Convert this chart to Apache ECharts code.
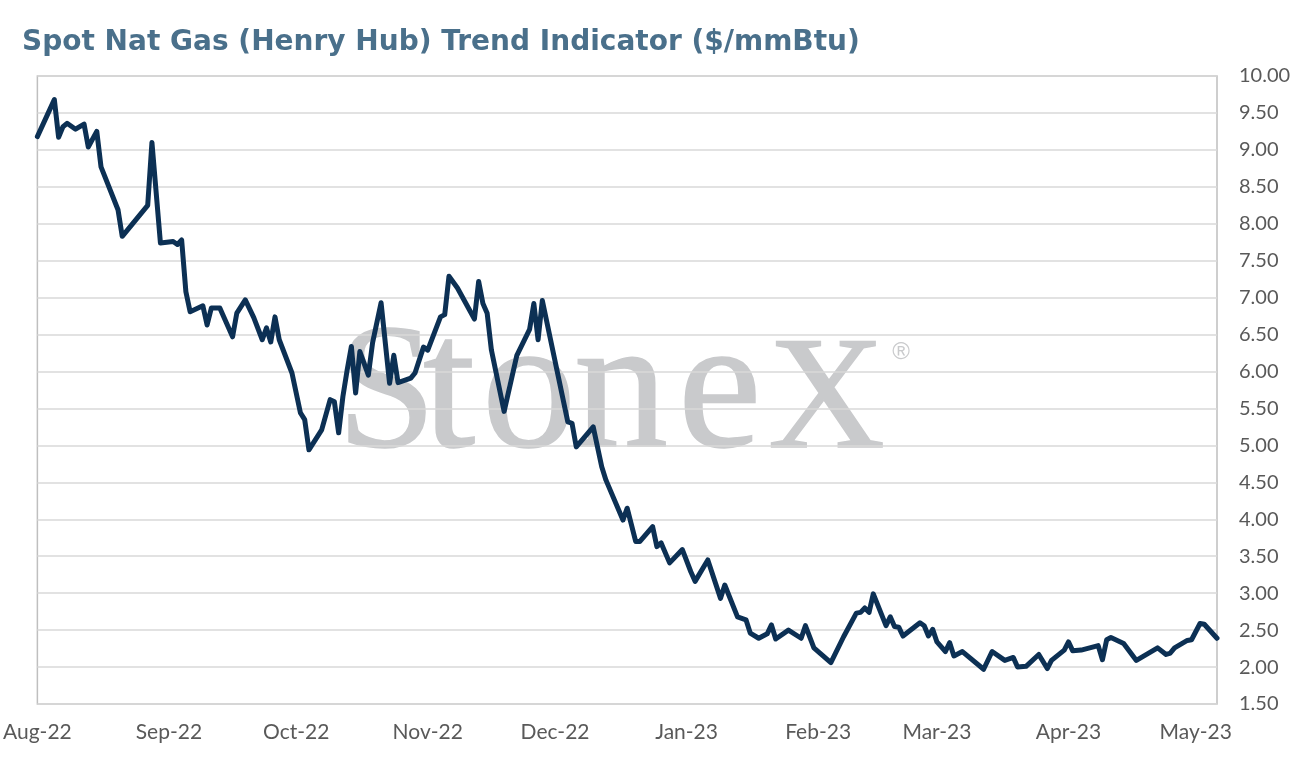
<!DOCTYPE html>
<html>
<head>
<meta charset="utf-8">
<title>Spot Nat Gas (Henry Hub) Trend Indicator</title>
<script src="https://cdn.jsdelivr.net/npm/echarts@6/dist/echarts.min.js"></script>
<style>
  html, body { margin: 0; padding: 0; background: #fff; }
  #chart { width: 1296px; height: 766px; }
</style>
</head>
<body>
<div id="chart"></div>
<script>
// dates of the line's turning points
var dates = [
  '2022-08-01','2022-08-05','2022-08-06','2022-08-07','2022-08-08','2022-08-10','2022-08-12','2022-08-13',
  '2022-08-15','2022-08-16','2022-08-20','2022-08-21','2022-08-27','2022-08-28','2022-08-30',
  '2022-09-02','2022-09-03','2022-09-04','2022-09-05','2022-09-06','2022-09-09','2022-09-10','2022-09-11',
  '2022-09-13','2022-09-16','2022-09-17','2022-09-19','2022-09-21','2022-09-23','2022-09-24','2022-09-25',
  '2022-09-26','2022-09-27','2022-09-30',
  '2022-10-02','2022-10-03','2022-10-04','2022-10-07','2022-10-09','2022-10-10','2022-10-11','2022-10-12',
  '2022-10-13','2022-10-14','2022-10-15','2022-10-16','2022-10-18','2022-10-19','2022-10-21','2022-10-23',
  '2022-10-24','2022-10-25','2022-10-28','2022-10-29','2022-10-31',
  '2022-11-01','2022-11-04','2022-11-05','2022-11-06','2022-11-08','2022-11-12','2022-11-13','2022-11-14',
  '2022-11-15','2022-11-16','2022-11-19','2022-11-22','2022-11-25','2022-11-26','2022-11-27','2022-11-28',
  '2022-12-04','2022-12-05','2022-12-06','2022-12-10','2022-12-12','2022-12-13','2022-12-17','2022-12-18',
  '2022-12-20','2022-12-21','2022-12-24','2022-12-25','2022-12-26','2022-12-28','2022-12-31',
  '2023-01-02','2023-01-03','2023-01-06','2023-01-09','2023-01-10','2023-01-13','2023-01-15','2023-01-16',
  '2023-01-18','2023-01-20','2023-01-21','2023-01-22','2023-01-25','2023-01-28','2023-01-29','2023-01-31',
  '2023-02-04','2023-02-07','2023-02-10','2023-02-11','2023-02-12','2023-02-13','2023-02-14','2023-02-17',
  '2023-02-18','2023-02-19','2023-02-20','2023-02-21','2023-02-25','2023-02-26','2023-02-27','2023-02-28',
  '2023-03-01','2023-03-03','2023-03-04','2023-03-05','2023-03-07','2023-03-12','2023-03-14','2023-03-17',
  '2023-03-19','2023-03-20','2023-03-22','2023-03-25','2023-03-27','2023-03-28','2023-03-31',
  '2023-04-01','2023-04-02','2023-04-04','2023-04-08','2023-04-09','2023-04-10','2023-04-11','2023-04-14',
  '2023-04-17','2023-04-22','2023-04-24','2023-04-25','2023-04-26','2023-04-29','2023-04-30',
  '2023-05-02','2023-05-03','2023-05-06'
];
// $/mmBtu
var prices = [
  9.18, 9.68, 9.17, 9.31, 9.36, 9.28, 9.35, 9.04,
  9.25, 8.77, 8.19, 7.83, 8.25, 9.10, 7.74,
  7.76, 7.72, 7.78, 7.08, 6.81, 6.89, 6.63, 6.86,
  6.86, 6.47, 6.79, 6.97, 6.73, 6.43, 6.59, 6.40,
  6.74, 6.43, 5.98,
  5.44, 5.35, 4.94, 5.21, 5.62, 5.59, 5.17, 5.66,
  6.02, 6.34, 5.71, 6.27, 5.95, 6.39, 6.93, 5.84,
  6.22, 5.85, 5.91, 5.98, 6.33,
  6.29, 6.74, 6.77, 7.29, 7.13, 6.71, 7.22, 6.92,
  6.79, 6.29, 5.46, 6.22, 6.57, 6.92, 6.43, 6.96,
  5.32, 5.30, 4.98, 5.25, 4.71, 4.53, 3.99, 4.15,
  3.70, 3.70, 3.90, 3.63, 3.68, 3.41, 3.59,
  3.29, 3.16, 3.45, 2.93, 3.11, 2.68, 2.64, 2.46,
  2.39, 2.45, 2.57, 2.38, 2.50, 2.39, 2.56, 2.26,
  2.06, 2.41, 2.73, 2.74, 2.80, 2.74, 2.99, 2.56,
  2.68, 2.55, 2.54, 2.42, 2.60, 2.56, 2.42, 2.51,
  2.34, 2.21, 2.33, 2.15, 2.21, 1.97, 2.21, 2.09,
  2.13, 2.00, 2.01, 2.17, 1.98, 2.09, 2.23,
  2.34, 2.22, 2.23, 2.29, 2.10, 2.37, 2.40, 2.32,
  2.09, 2.26, 2.17, 2.19, 2.26, 2.36, 2.37,
  2.59, 2.58, 2.39
];
// month ticks on the x axis
var tickDates = ['2022-08-01','2022-09-01','2022-10-01','2022-11-01','2022-12-01','2023-01-01',
                 '2023-02-01','2023-03-01','2023-04-01','2023-05-01'];
var tickLabels = ['Aug-22','Sep-22','Oct-22','Nov-22','Dec-22','Jan-23','Feb-23','Mar-23','Apr-23','May-23'];

function toTime(s) {
    var p = s.split('-');
    return new Date(+p[0], +p[1] - 1, +p[2]).getTime();
}

var chart = echarts.init(document.getElementById('chart'));

var seriesData = [];
for (var i = 0; i < dates.length; i++) {
    seriesData.push([toTime(dates[i]), prices[i]]);
}
var tickTimes = tickDates.map(toTime);

// StoneX watermark, letter by letter (sits under the gridlines)
var wmColor = '#c9cacc';
var wmLetters = [
    { t: 'S', x: 337, y: 399, fs: 178 },
    { t: 't', x: 423, y: 397, fs: 188 },
    { t: 'o', x: 482, y: 397, fs: 188 },
    { t: 'n', x: 574, y: 397, fs: 188 },
    { t: 'e', x: 678, y: 397, fs: 188 },
    { t: 'X', x: 768, y: 404, fs: 162 }
];
var graphics = wmLetters.map(function (l) {
    return {
        type: 'text', x: l.x, y: l.y, z: -10, silent: true,
        style: { text: l.t, fill: wmColor, stroke: wmColor, lineWidth: 1.5,
                 font: l.fs + 'px "Liberation Serif", "Times New Roman", serif',
                 verticalAlign: 'middle', align: 'left' }
    };
});
graphics.push({ type: 'text', x: 901, y: 352, z: -10, silent: true,
    style: { text: '®', fill: wmColor, font: '24px "Liberation Sans", sans-serif',
             align: 'center', verticalAlign: 'middle' } });

var option = {
    animation: false,
    backgroundColor: '#ffffff',
    title: {
        text: 'Spot Nat Gas (Henry Hub) Trend Indicator ($/mmBtu)',
        left: 17, top: 24,
        textStyle: { fontFamily: 'DejaVu Sans', fontWeight: 'bold', fontSize: 28, color: '#4a708b' }
    },
    graphic: graphics,
    grid: {
        left: 34, right: 79, top: 76, bottom: 62,
        show: true, borderColor: '#bfbfbf', borderWidth: 1.5, backgroundColor: 'transparent'
    },
    xAxis: {
        type: 'value',
        min: toTime('2022-08-01'),
        max: toTime('2023-05-06'),
        axisLine: { show: false },
        axisTick: { show: false },
        splitLine: { show: false },
        axisLabel: {
            customValues: tickTimes,
            margin: 18,
            color: '#595959',
            fontFamily: 'Lato',
            fontSize: 21,
            hideOverlap: false,
            formatter: function (val) {
                var idx = tickTimes.indexOf(+val);
                return idx >= 0 ? tickLabels[idx] : '';
            }
        }
    },
    yAxis: {
        type: 'value',
        position: 'right',
        min: 1.5,
        max: 10,
        interval: 0.5,
        axisLine: { show: false },
        axisTick: { show: false },
        splitLine: { lineStyle: { color: '#d9d9d9', width: 1.5 } },
        axisLabel: {
            margin: 22,
            color: '#595959',
            fontFamily: 'Lato',
            fontSize: 20,
            formatter: function (v) { return v.toFixed(2); }
        }
    },
    series: [{
        type: 'line',
        data: seriesData,
        showSymbol: false,
        symbol: 'none',
        lineStyle: { color: '#0c3054', width: 5, join: 'round', cap: 'round' },
        z: 5
    }]
};
chart.setOption(option);
</script>
</body>
</html>
